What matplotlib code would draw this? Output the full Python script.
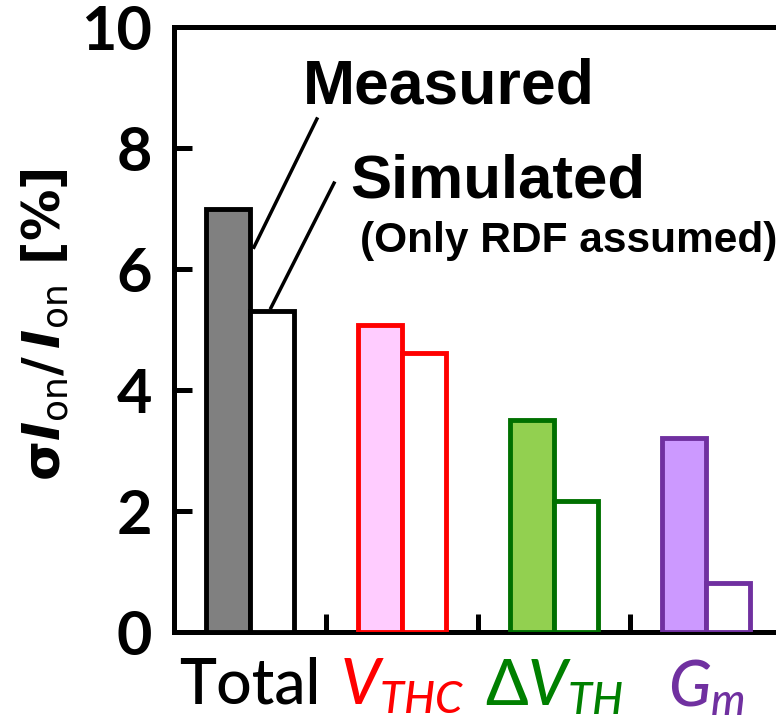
import numpy as np
import matplotlib
matplotlib.use("Agg")
import matplotlib.pyplot as plt

# values (sigma Ion / Ion in %)
groups = ["Total", r"$V_{THC}$", r"$\mathrm{\Delta}V_{TH}$", r"$G_m$"]
measured = [7.0, 5.07, 3.5, 3.21]
simulated = [5.3, 4.61, 2.17, 0.81]

edge_colors = ["black", "#FF0000", "#007000", "#7030A0"]
fill_colors = ["#808080", "#FFCCFF", "#92D050", "#CC99FF"]
label_colors = ["black", "#FF0000", "#008000", "#7030A0"]

plt.rcParams["mathtext.fontset"] = "custom"
plt.rcParams["mathtext.rm"] = "Lato:medium"
plt.rcParams["mathtext.it"] = "Lato:medium:italic"
plt.rcParams["mathtext.bf"] = "Lato:bold"

fig = plt.figure(figsize=(7.76, 7.2), dpi=100)
ax = fig.add_axes([174 / 776, 88 / 720, 608 / 776, 605 / 720])

x = np.arange(len(groups))
w = 0.29
for i in range(len(groups)):
    ax.bar(x[i] - w, measured[i], width=w, align="edge", color=fill_colors[i],
           edgecolor=edge_colors[i], linewidth=3.5, zorder=3)
    ax.bar(x[i], simulated[i], width=w, align="edge", color="white",
           edgecolor=edge_colors[i], linewidth=3.5, zorder=3)

ax.set_xlim(-0.5, 3.5)
ax.set_ylim(0, 10)

for s in ax.spines.values():
    s.set_linewidth(3.6)

ax.set_yticks([0, 2, 4, 6, 8, 10])
ax.tick_params(axis="y", direction="in", length=13, width=3.6, pad=16)
for t in ax.get_yticklabels():
    t.set_fontfamily("Lato")
    t.set_fontweight("bold")
    t.set_fontsize(44)

ax.set_xticks(x)
ax.set_xticklabels(groups)
ax.set_xticks(x[:-1] + 0.5, minor=True)
ax.tick_params(axis="x", which="major", length=0, pad=18)
ax.tick_params(axis="x", which="minor", direction="in", length=13, width=3.6)
for t, c in zip(ax.get_xticklabels(), label_colors):
    t.set_color(c)
    t.set_fontfamily("Lato")
    t.set_fontweight("medium")
    t.set_fontsize(45)

ax.set_ylabel(r"σ$\mathbfit{I}_{\mathrm{on}}$/$\,\mathbfit{I}_{\mathrm{on}}$ [%]",
              fontsize=37, fontweight="bold", va="center", math_fontfamily="dejavusans")
ax.yaxis.set_label_coords(-0.212, 0.508)

# annotations
ax.text(0.349, 8.74, "Measured", fontfamily="Liberation Sans", fontweight="bold",
        fontsize=45, va="baseline", ha="left")
ax.text(0.658, 7.19, "Simulated", fontfamily="Liberation Sans", fontweight="bold",
        fontsize=44.5, va="baseline", ha="left")
ax.text(0.724, 6.28, "(Only RDF assumed)", fontfamily="Liberation Sans", fontweight="bold",
        fontsize=30.5, va="baseline", ha="left")
ax.plot([0.44, 0.026], [8.48, 6.36], color="black", linewidth=2.5, zorder=4)
ax.plot([0.553, 0.138], [7.42, 5.36], color="black", linewidth=2.5, zorder=4)

fig.savefig("out.png", dpi=100)
